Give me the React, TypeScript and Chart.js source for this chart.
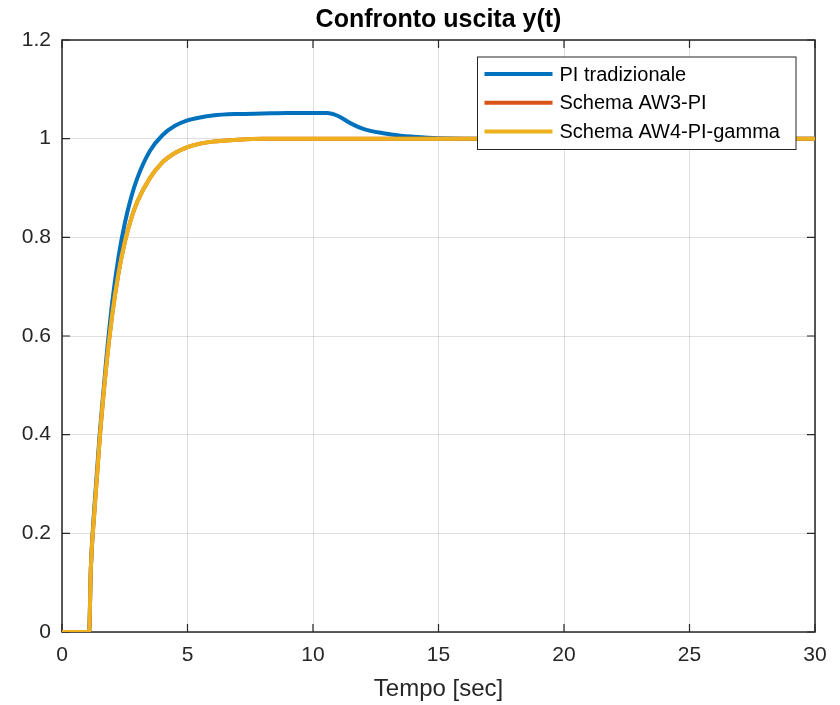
import React, { useEffect, useRef } from "react";
import { Chart, registerables } from "chart.js";

Chart.register(...registerables);

// ---- data ----
const timeSec = [
  0, 1.08, 1.15, 1.3, 1.5, 1.75, 2.0, 2.25, 2.5, 2.75, 3.0, 3.5, 4.0, 4.5, 5.0, 5.5, 6.0,
  7.0, 8.0, 9.0, 10.0, 10.55, 11.0, 11.5, 12.0, 12.8, 13.5, 14.0, 15.0, 16.0, 20.0, 25.0, 30.0,
];
const yPI = [
  0, 0, 0.13, 0.26, 0.4, 0.545, 0.668, 0.76, 0.828, 0.88, 0.92, 0.975, 1.007, 1.026, 1.037, 1.043, 1.047,
  1.05, 1.051, 1.052, 1.052, 1.052, 1.046, 1.031, 1.02, 1.011, 1.006, 1.004, 1.001, 1.0, 1.0, 1.0, 1.0,
];
const yAW3 = [
  0, 0, 0.13, 0.25, 0.39, 0.532, 0.643, 0.727, 0.79, 0.837, 0.872, 0.92, 0.952, 0.971, 0.983, 0.99, 0.994,
  0.998, 1.0, 1.0, 1.0, 1.0, 1.0, 1.0, 1.0, 1.0, 1.0, 1.0, 1.0, 1.0, 1.0, 1.0, 1.0,
];
const yAW4 = [
  0, 0, 0.13, 0.25, 0.39, 0.532, 0.643, 0.727, 0.79, 0.837, 0.872, 0.92, 0.952, 0.971, 0.983, 0.99, 0.994,
  0.998, 1.0, 1.0, 1.0, 1.0, 1.0, 1.0, 1.0, 1.0, 1.0, 1.0, 1.0, 1.0, 1.0, 1.0, 1.0,
];
const seriesLabels = ["PI tradizionale", "Schema AW3-PI", "Schema AW4-PI-gamma"];
const seriesColors = ["#0072BD", "#D95319", "#EDB120"];
const xTicks = [0, 5, 10, 15, 20, 25, 30];
const yTicks = [0, 0.2, 0.4, 0.6, 0.8, 1, 1.2];
const titleText = "Confronto uscita y(t)";
const xLabelText = "Tempo [sec]";

const FONT = "'Liberation Sans', Arial, Helvetica, sans-serif";
const AXIS_COLOR = "#262626";

const matlabPlugin = {
  id: "matlabDecor",
  beforeDatasetsDraw(chart: any) {
    const { ctx, chartArea } = chart;
    const { left, right, top, bottom } = chartArea;
    const xs = chart.scales.x;
    const ys = chart.scales.y;
    ctx.save();
    ctx.strokeStyle = AXIS_COLOR;
    ctx.lineWidth = 1.5;
    ctx.strokeRect(left, top, right - left, bottom - top);
    const tl = 8;
    ctx.lineWidth = 1.2;
    ctx.beginPath();
    xTicks.forEach((v) => {
      const px = xs.getPixelForValue(v);
      ctx.moveTo(px, bottom);
      ctx.lineTo(px, bottom - tl);
      ctx.moveTo(px, top);
      ctx.lineTo(px, top + tl);
    });
    yTicks.forEach((v) => {
      const py = ys.getPixelForValue(v);
      ctx.moveTo(left, py);
      ctx.lineTo(left + tl, py);
      ctx.moveTo(right, py);
      ctx.lineTo(right - tl, py);
    });
    ctx.stroke();
    ctx.restore();
  },
  afterDraw(chart: any) {
    const { ctx, chartArea } = chart;
    ctx.save();
    // title
    ctx.fillStyle = "#000";
    ctx.font = `bold 25px ${FONT}`;
    ctx.textAlign = "center";
    ctx.textBaseline = "middle";
    ctx.fillText(titleText, (chartArea.left + chartArea.right) / 2, 20.5);

    // legend
    const boxRight = chartArea.right - 19;
    const boxLeft = boxRight - 318.5;
    const boxTop = chartArea.top + 17;
    const boxH = 92.5;
    ctx.fillStyle = "#fff";
    ctx.fillRect(boxLeft, boxTop, boxRight - boxLeft, boxH);
    ctx.strokeStyle = AXIS_COLOR;
    ctx.lineWidth = 1;
    ctx.strokeRect(boxLeft, boxTop, boxRight - boxLeft, boxH);
    ctx.font = `20px ${FONT}`;
    ctx.textAlign = "left";
    ctx.textBaseline = "middle";
    seriesLabels.forEach((lab, i) => {
      const cy = boxTop + 17 + i * 28.8;
      ctx.strokeStyle = seriesColors[i];
      ctx.lineWidth = 4;
      ctx.beginPath();
      ctx.moveTo(boxLeft + 7, cy);
      ctx.lineTo(boxLeft + 75, cy);
      ctx.stroke();
      ctx.fillStyle = "#000";
      ctx.fillText(lab, boxLeft + 82, cy + 1);
    });
    ctx.restore();
  },
};

export default function App() {
  const canvasRef = useRef<HTMLCanvasElement | null>(null);

  useEffect(() => {
    if (!canvasRef.current) return;
    Chart.defaults.font.family = FONT;
    const seriesValues = [yPI, yAW3, yAW4];
    const orders = [2, 1, 0];
    const chart = new Chart(canvasRef.current, {
      type: "line",
      data: {
        datasets: seriesValues.map((vals, i) => ({
          label: seriesLabels[i],
          data: timeSec.map((t, k) => ({ x: t, y: vals[k] })),
          borderColor: seriesColors[i],
          backgroundColor: seriesColors[i],
          borderWidth: 4,
          pointRadius: 0,
          fill: false,
          cubicInterpolationMode: "monotone" as const,
          order: orders[i],
        })),
      },
      options: {
        animation: false,
        responsive: false,
        maintainAspectRatio: false,
        events: [],
        layout: { padding: { top: 40, right: 25, left: 0, bottom: 0 } },
        plugins: {
          legend: { display: false },
          title: { display: false },
          tooltip: { enabled: false },
        },
        scales: {
          x: {
            type: "linear",
            min: 0,
            max: 30,
            afterBuildTicks: (s: any) => {
              s.ticks = xTicks.map((v) => ({ value: v }));
            },
            afterFit: (s: any) => {
              s.height = 73;
            },
            border: { display: false },
            grid: { color: "rgba(38,38,38,0.15)", drawTicks: false, lineWidth: 1 },
            ticks: {
              font: { size: 21, family: FONT },
              color: AXIS_COLOR,
              padding: 11,
              maxRotation: 0,
              callback: (v: any) => String(v),
            },
            title: {
              display: true,
              text: xLabelText,
              color: AXIS_COLOR,
              font: { size: 24, family: FONT },
              padding: { top: 4, bottom: 1.5 },
            },
          },
          y: {
            type: "linear",
            min: 0,
            max: 1.2,
            afterBuildTicks: (s: any) => {
              s.ticks = yTicks.map((v) => ({ value: v }));
            },
            afterFit: (s: any) => {
              s.width = 62;
            },
            border: { display: false },
            grid: { color: "rgba(38,38,38,0.15)", drawTicks: false, lineWidth: 1 },
            ticks: {
              font: { size: 21, family: FONT },
              color: AXIS_COLOR,
              padding: 11,
              callback: (v: any) => String(v),
            },
          },
        },
      },
      plugins: [matlabPlugin],
    });
    return () => chart.destroy();
  }, []);

  return (
    <div
      style={{
        position: "absolute",
        left: 0,
        top: 0,
        width: 840,
        height: 705,
        background: "#fff",
      }}
    >
      <canvas ref={canvasRef} width={840} height={705} style={{ display: "block" }} />
    </div>
  );
}
